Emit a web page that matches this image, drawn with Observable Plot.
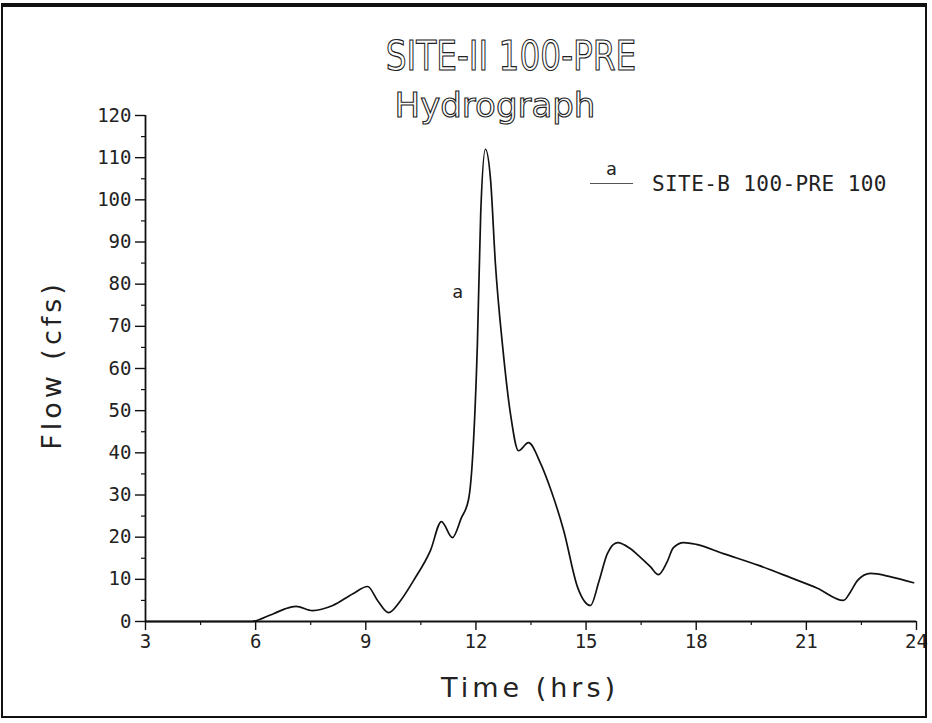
<!DOCTYPE html>
<html><head><meta charset="utf-8">
<script src="https://cdn.jsdelivr.net/npm/d3@7"></script>
<script src="https://cdn.jsdelivr.net/npm/@observablehq/plot@0.6"></script>
<style>
body{margin:0;background:#fff;}
#wrap{position:relative;width:932px;height:723px;overflow:hidden;background:#fff;}
#frame{position:absolute;left:1px;top:3px;width:926px;height:715px;border:2px solid #111;border-top-width:4px;box-sizing:border-box;pointer-events:none;}
.ov{position:absolute;white-space:nowrap;color:#222;}
#t1{left:0;width:1022px;top:36px;text-align:center;font-family:"DejaVu Sans";font-size:41px;line-height:41px;color:#fff;-webkit-text-stroke:1.2px #222;transform:scaleX(0.8);transform-origin:511px 0;}
#t2{left:0;width:990px;top:88px;text-align:center;font-family:"DejaVu Sans";font-size:34px;line-height:34px;color:#fff;-webkit-text-stroke:1.1px #222;transform-origin:495px 0;}
#xl{left:0;width:1060px;top:673px;text-align:center;font-family:"DejaVu Sans";font-size:27px;line-height:30px;letter-spacing:4px;}
#yl{left:52px;top:365px;font-family:"DejaVu Sans";font-size:27px;line-height:30px;letter-spacing:4px;transform:translate(-50%,-50%) rotate(-90deg);}
#lg-a{left:606px;top:160px;font-family:"DejaVu Sans Mono";font-size:18px;line-height:18px;}
#lg-line{position:absolute;left:590px;top:183px;width:43px;height:0;border-top:1.3px solid #555;}
#lg-t{left:652px;top:172px;font-family:"DejaVu Sans Mono";font-size:21px;line-height:24px;letter-spacing:0.4px;}
</style></head>
<body>
<div id="wrap">
  <div id="plot"></div>
  <div class="ov" id="t1">SITE-II 100-PRE</div>
  <div class="ov" id="t2">Hydrograph</div>
  <div class="ov" id="xl">Time (hrs)</div>
  <div class="ov" id="yl">Flow (cfs)</div>
  <div class="ov" id="lg-a">a</div>
  <div id="lg-line"></div>
  <div class="ov" id="lg-t">SITE-B 100-PRE 100</div>
  <div id="frame"></div>
</div>
<script>
// Hydrograph series (time in hours, flow in cfs)
const hours = [3, 5.0, 5.9, 6.2, 6.5, 6.8, 7.1, 7.55, 8.1, 8.65, 9.05, 9.32, 9.62, 9.95, 10.3, 10.76, 11.06, 11.36, 11.6, 11.8, 11.92, 12.04, 12.13, 12.26, 12.4, 12.53, 12.73, 12.94, 13.16, 13.43, 13.76, 14.05, 14.39, 14.77, 15.12, 15.35, 15.58, 15.86, 16.2, 16.48, 16.75, 16.97, 17.2, 17.38, 17.66, 18.0, 18.74, 19.7, 20.57, 21.3, 22.01, 22.2, 22.39, 22.75, 23.3, 23.92];
const flow  = [0, 0, 0, 0.8, 1.9, 3.0, 3.6, 2.6, 3.8, 6.6, 8.3, 5.0, 2.1, 5.0, 9.7, 16.8, 23.7, 19.9, 24.5, 29, 40.5, 65.9, 96.7, 112, 104.6, 84.9, 65, 49.3, 40.5, 42.4, 37.5, 31, 21.6, 8.1, 3.8, 9.5, 16.1, 18.7, 17.3, 15.2, 13.0, 11.1, 14.0, 17.5, 18.7, 18.3, 16.1, 13.3, 10.4, 7.9, 5.0, 7.0, 9.7, 11.4, 10.6, 9.2];

// Curve symbol label
const symbolHour = [11.5];
const symbolFlow = [78];
const symbolText = ["a"];

// Axis ticks
const xTicks = [3, 6, 9, 12, 15, 18, 21, 24];
const xMinor = [4.5, 7.5, 10.5, 13.5, 16.5, 19.5, 22.5];
const yTicks = [0, 10, 20, 30, 40, 50, 60, 70, 80, 90, 100, 110, 120];
const yMinor = [5, 15, 25, 35, 45, 55, 65, 75, 85, 95, 105, 115];

const series = hours.map((h, i) => ({h, q: flow[i]}));
const symbols = symbolHour.map((h, i) => ({h, q: symbolFlow[i], t: symbolText[i]}));

const chart = Plot.plot({
  width: 932,
  height: 723,
  marginLeft: 145,
  marginRight: 16,
  marginTop: 115,
  marginBottom: 102,
  x: {domain: [3, 24]},
  y: {domain: [0, 120]},
  style: {fontFamily: "DejaVu Sans Mono", fontSize: "19px", color: "#222", background: "transparent", overflow: "visible"},
  marks: [
    Plot.axisX({ticks: xTicks, tickSize: 9, tickPadding: 4, tickFormat: d => d, label: null, stroke: "#111", strokeWidth: 1.4}),
    Plot.axisX({ticks: xMinor, tickSize: 4, tickFormat: () => "", label: null, stroke: "#111", strokeWidth: 1.2}),
    Plot.axisY({ticks: yTicks, tickSize: 10, tickPadding: 4, tickFormat: d => d, label: null, stroke: "#111", strokeWidth: 1.4}),
    Plot.axisY({ticks: yMinor, tickSize: 4, tickFormat: () => "", label: null, stroke: "#111", strokeWidth: 1.2}),
    Plot.ruleY([0], {stroke: "#111", strokeWidth: 1.8}),
    Plot.ruleX([3], {stroke: "#111", strokeWidth: 1.8}),
    Plot.line(series, {x: "h", y: "q", curve: "monotone-x", stroke: "#111", strokeWidth: 1.7}),
    Plot.text(symbols, {x: "h", y: "q", text: "t", fontSize: 18, fill: "#222"})
  ]
});
document.getElementById("plot").appendChild(chart);
</script>
</body></html>
